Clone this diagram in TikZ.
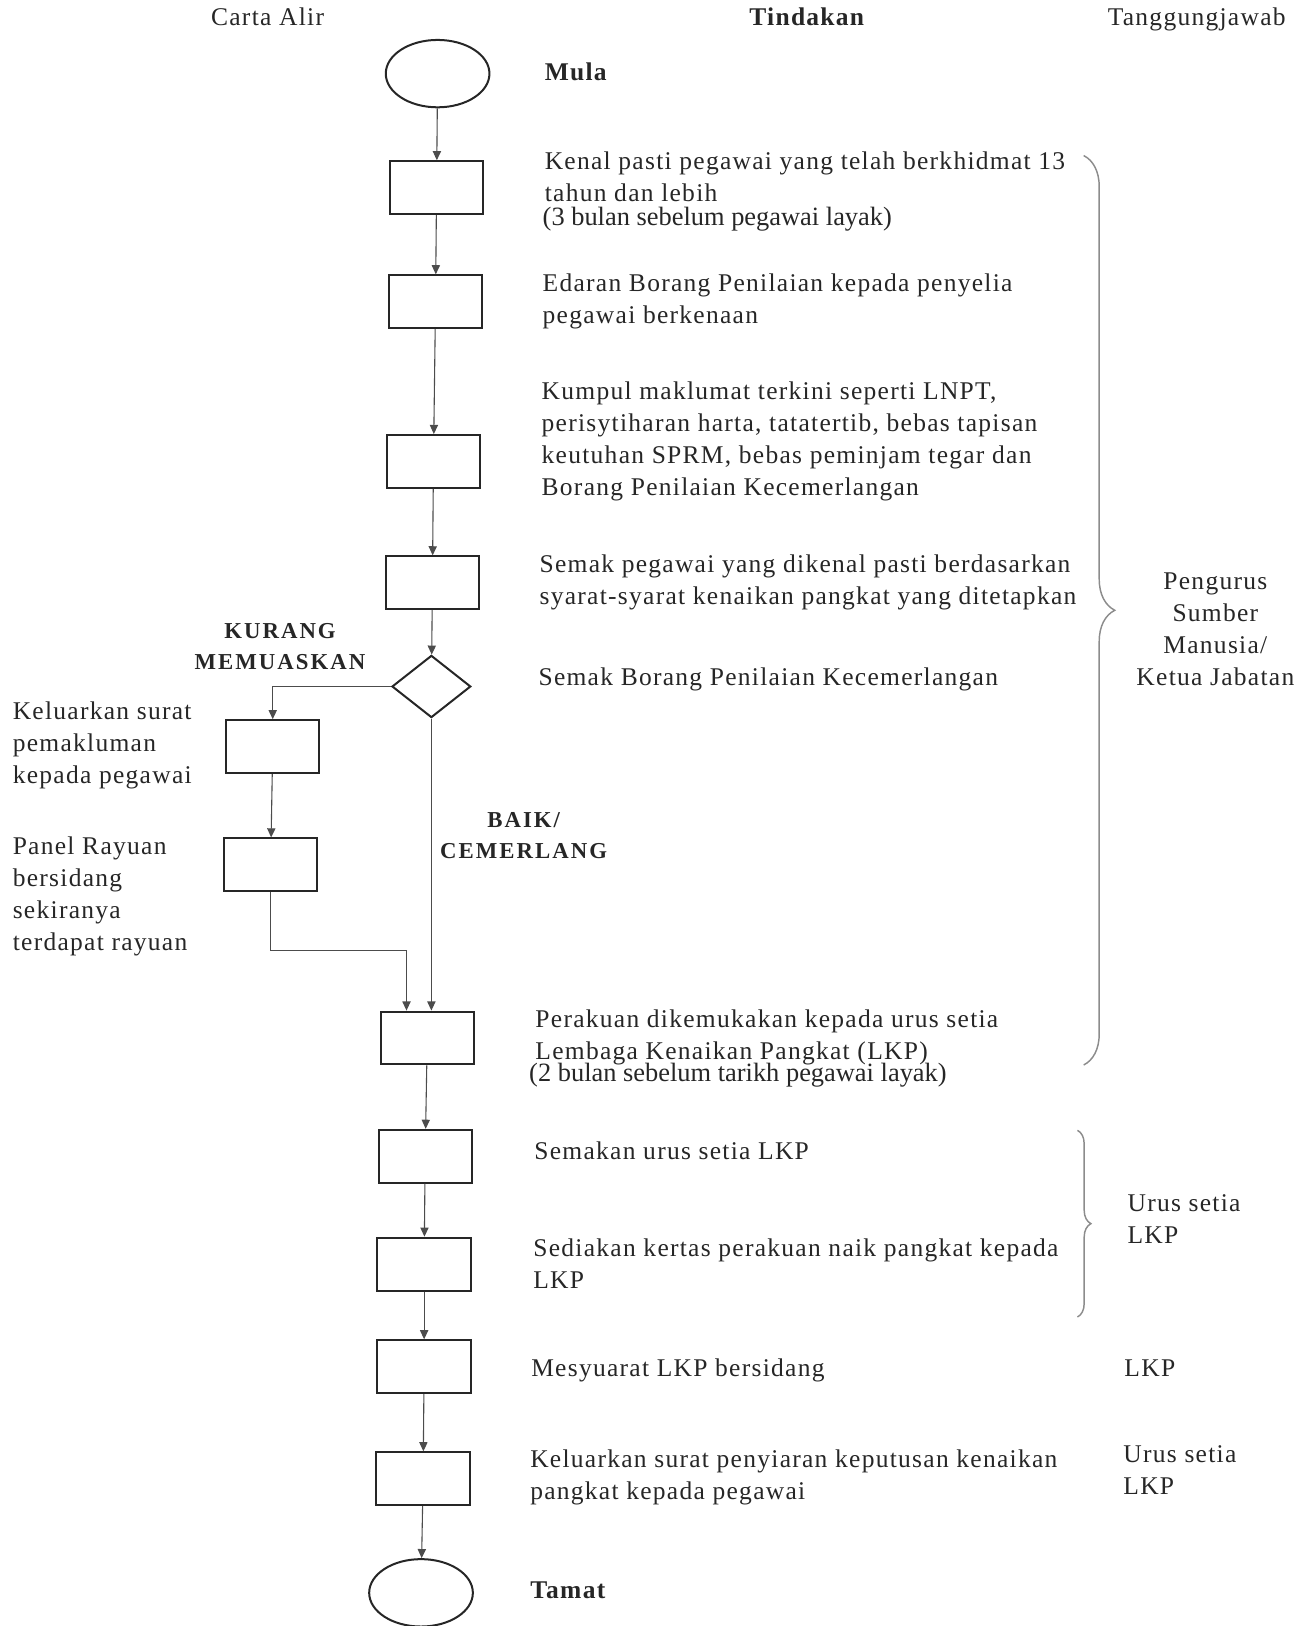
\documentclass[tikz,border=0pt]{standalone}
\usepackage{fontspec}
\setmainfont[LetterSpace=5]{Liberation Serif}
\newfontfamily\tightserif{Liberation Serif}
\usetikzlibrary{shapes.geometric, arrows.meta, decorations.pathreplacing}

\begin{document}
\begin{tikzpicture}[x=0.02cm, y=-0.02cm,
    every node/.style={font=\fontsize{14}{17.6}\selectfont, text=black!85},
    proc/.style={draw=black!85, line width=1.1pt, minimum width=1.8cm, minimum height=1.02cm, inner sep=0pt},
    term/.style={draw=black!85, line width=1.1pt, ellipse, minimum width=2cm, minimum height=1.3cm, inner sep=0pt},
    test/.style={draw=black!85, line width=1.1pt, diamond, minimum width=1.52cm, minimum height=1.2cm, inner sep=0pt},
    say/.style={anchor=base west, align=left, inner sep=0pt},
    head/.style={anchor=base, inner sep=0pt},
    verdict/.style={anchor=base, align=center, inner sep=0pt, font=\fontsize{12.5}{17}\selectfont\bfseries\addfontfeature{LetterSpace=9}},
    flow/.style={draw=black!70, line width=0.6pt, -{Triangle[length=5pt, width=4.5pt]}},
    curly/.style={draw=black!45, line width=0.8pt, decorate}
]
\useasboundingbox (0,0) rectangle (1264,1568);

\node[head] (hflow) at (258,25) {Carta Alir};
\node[head, font=\fontsize{14}{17.6}\selectfont\bfseries] (hact) at (778,25) {Tindakan};
\node[head] (hresp) at (1154,25) {Tanggungjawab};

\node[term] (start) at (422,71) {};
\node[proc] (b1) at (421,181) {};
\node[proc] (b2) at (420,291) {};
\node[proc] (b3) at (418,445) {};
\node[proc] (b4) at (417,562) {};
\node[test] (dec) at (416,662) {};
\node[proc] (l1) at (263,720) {};
\node[proc] (l2) at (261,834) {};
\node[proc] (b5) at (412,1001) {};
\node[proc] (b6) at (410,1115) {};
\node[proc] (b7) at (409,1219) {};
\node[proc] (b8) at (409,1318) {};
\node[proc] (b9) at (408,1426) {};
\node[term] (stop) at (406,1536) {};
\coordinate (join) at (392,917);

\draw[flow] (start) -- (b1);
\draw[flow] (b1) -- (b2);
\draw[flow] (b2) -- (b3);
\draw[flow] (b3) -- (b4);
\draw[flow] (b4) -- (dec);
\draw[flow] (dec.west) -| (l1.north);
\draw[flow] (l1) -- (l2);
\draw[flow] (l2.south) |- (join) -- (join |- b5.north);
\draw[flow] (dec.south) -- (dec.south |- b5.north);
\draw[flow] (b5) -- (b6);
\draw[flow] (b6) -- (b7);
\draw[flow] (b7) -- (b8);
\draw[flow] (b8) -- (b9);
\draw[flow] (b9) -- (stop);

\node[say, font=\fontsize{14}{17.6}\selectfont\bfseries] (mula) at (525,78) {Mula};
\node[say] (t1) at (525,194) {Kenal pasti pegawai yang telah berkhidmat 13\\tahun dan lebih};
\node[say, font=\fontsize{14.5}{17.6}\tightserif] (t1b) at (523,217) {(3 bulan sebelum pegawai layak)};
\node[say] (t2) at (523,312) {Edaran Borang Penilaian kepada penyelia\\pegawai berkenaan};
\node[say] (t3) at (522,478) {Kumpul maklumat terkini seperti LNPT,\\perisytiharan harta, tatatertib, bebas tapisan\\keutuhan SPRM, bebas peminjam tegar dan\\Borang Penilaian Kecemerlangan};
\node[say] (t4) at (520,583) {Semak pegawai yang dikenal pasti berdasarkan\\syarat-syarat kenaikan pangkat yang ditetapkan};
\node[say] (t5) at (519,661) {Semak Borang Penilaian Kecemerlangan};
\node[verdict] (kurang) at (270,646) {KURANG\\MEMUASKAN};
\node[say] (tl1) at (12,756) {Keluarkan surat\\pemakluman\\kepada pegawai};
\node[say] (tl2) at (12,917) {Panel Rayuan\\bersidang\\sekiranya\\terdapat rayuan};
\node[verdict] (baik) at (505,828) {BAIK/\\CEMERLANG};
\node[say] (t6) at (516,1022) {Perakuan dikemukakan kepada urus setia\\Lembaga Kenaikan Pangkat (LKP)};
\node[say, font=\fontsize{14.5}{17.6}\tightserif] (t6b) at (510,1043) {(2 bulan sebelum tarikh pegawai layak)};
\node[say] (t7) at (515,1118) {Semakan urus setia LKP};
\node[say] (t8) at (514,1243) {Sediakan kertas perakuan naik pangkat kepada\\LKP};
\node[say] (t9) at (512,1327) {Mesyuarat LKP bersidang};
\node[say] (t10) at (511,1446) {Keluarkan surat penyiaran keputusan kenaikan\\pangkat kepada pegawai};
\node[say, font=\fontsize{14}{17.6}\selectfont\bfseries] (tamat) at (511,1541) {Tamat};

\draw[curly, decoration={brace, amplitude=0.6cm}] (1045,150) -- (1045,1027);
\draw[curly, decoration={brace, amplitude=0.26cm}] (1039,1090) -- (1039,1270);
\node[anchor=base, align=center, inner sep=0pt] (hr) at (1172,661) {Pengurus\\Sumber\\Manusia/\\Ketua Jabatan};
\node[say] (us1) at (1087,1199) {Urus setia\\LKP};
\node[say] (lkp) at (1084,1327) {LKP};
\node[say] (us2) at (1083,1441) {Urus setia\\LKP};
\end{tikzpicture}
\end{document}
